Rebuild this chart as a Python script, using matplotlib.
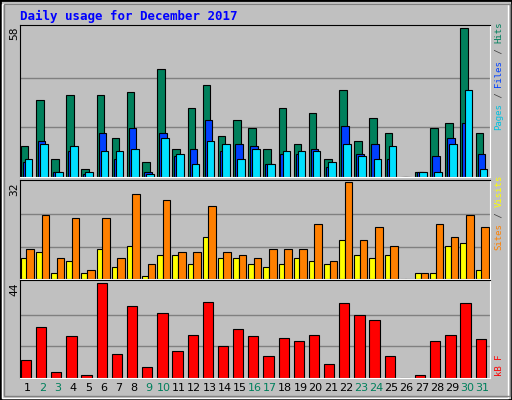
import matplotlib
matplotlib.use("Agg")
import matplotlib.pyplot as plt
from matplotlib.patches import Rectangle

days = list(range(1, 32))
hits  = [12,30,7,32,3,32,15,33,6,42,11,27,36,16,22,19,11,27,13,25,7,34,14,23,17,0,2,19,21,58,17]
files = [6,14,2,10,1,17,7,19,2,17,8,11,22,10,13,12,5,9,9,11,4,20,9,13,7,0,2,8,15,21,9]
pages = [7,13,2,12,2,10,10,11,1,15,9,5,14,13,7,11,5,10,10,10,6,13,8,7,12,0,2,2,13,34,3]
visits = [10,21,7,20,3,20,7,28,5,26,9,9,24,9,8,7,10,10,10,18,6,32,13,17,11,0,2,18,14,21,17]
sites  = [7,9,2,6,2,10,4,11,1,8,8,5,14,7,7,5,4,5,7,6,5,13,8,7,8,0,2,2,11,12,3]
kbytes = [8.3,23.7,2.6,19.4,1.6,44,11.2,33.3,5,29.9,12.6,19.8,35.2,14.6,22.7,19.4,10.2,18.4,17,19.8,6.4,34.7,29,26.6,10.2,0,1.6,17,19.8,34.7,17.9]
weekend = [2,3,9,10,16,17,23,24,30,31]

W, H = 512, 400
fig = plt.figure(figsize=(W/100, H/100), dpi=100)
fig.patch.set_facecolor('#C0C0C0')
fig.add_artist(Rectangle((0, 0), 1, 1, transform=fig.transFigure, fill=False, edgecolor='black', lw=2))
fig.add_artist(Rectangle((2/W, 2/H), (W-6)/W, (H-6)/H, transform=fig.transFigure, fill=False, edgecolor='white', lw=1))
fig.add_artist(Rectangle((4/W, 4/H), (W-6)/W, (H-8)/H, transform=fig.transFigure, fill=False, edgecolor='#808080', lw=1))

fig.text(20/W, 1-16/H, 'Daily usage for December 2017', color='#0000FF', fontsize=9,
         family='DejaVu Sans Mono', fontweight='bold', va='center', ha='left')

def mkax(top, bot):
    ax = fig.add_axes([20/W, 1-bot/H, 470/W, (bot-top)/H])
    ax.set_facecolor('#C0C0C0')
    ax.set_xlim(0.5, 31.5)
    ax.set_xticks([]); ax.set_yticks([])
    for s in ['top', 'left']:
        ax.spines[s].set_color('black')
    for s in ['bottom', 'right']:
        ax.spines[s].set_color('white')
    return ax

def side_label(parts, ybottom, fs=6.5):
    cw = 0.602 * fs * 100 / 72
    y = ybottom
    for txt, col in parts:
        fig.text(499/W, 1-y/H, txt, color=col, rotation=90, fontsize=fs,
                 family='DejaVu Sans Mono', ha='center', va='bottom')
        y -= cw * len(txt)

def max_label(ax, txt, top):
    fig.text(14/W, 1-top/H, txt, rotation=90, ha='center', va='top', fontsize=8,
             family='DejaVu Sans Mono')

ec = dict(edgecolor='black', linewidth=0.8)
x = [d - 0.45 for d in days]

ax1 = mkax(25, 177)
m1 = 58
ax1.set_ylim(0, m1*1.02)
for g in (m1/3, 2*m1/3):
    ax1.axhline(g, color='#808080', lw=1, zorder=0)
ax1.bar(x, hits, width=0.5, align='edge', color='#00805C', **ec)
ax1.bar([v+0.13 for v in x], files, width=0.5, align='edge', color='#0040FF', **ec)
ax1.bar([v+0.27 for v in x], pages, width=0.5, align='edge', color='#00E0FF', **ec)
max_label(ax1, '58', 27)
side_label([('Pages', '#00C0E0'), (' / ', '#404040'), ('Files', '#0040FF'), (' / ', '#404040'), ('Hits', '#00805C')], 130)

ax2 = mkax(180, 279)
m2 = 32
ax2.set_ylim(0, m2*1.02)
for g in (m2/3, 2*m2/3):
    ax2.axhline(g, color='#808080', lw=1, zorder=0)
ax2.bar(x, sites, width=0.4, align='edge', color='#FFFF00', **ec)
ax2.bar([v+0.37 for v in x], visits, width=0.5, align='edge', color='#FF8000', **ec)
max_label(ax2, '32', 182)
side_label([('Sites', '#FF8000'), (' / ', '#404040'), ('Visits', '#FFFF00')], 250)

ax3 = mkax(280, 378)
m3 = 44
ax3.set_ylim(0, m3*1.03)
for g in (m3/3, 2*m3/3):
    ax3.axhline(g, color='#808080', lw=1, zorder=0)
ax3.bar(x, kbytes, width=0.68, align='edge', color='#FF0000', **ec)
max_label(ax3, '44', 282)
side_label([('kB F', '#FF0000')], 376)

for d in days:
    fig.text((20 + (d-0.5)*470/31)/W, 1-388/H, str(d), color='#00805C' if d in weekend else 'black',
             fontsize=8, ha='center', va='center')

fig.savefig('out.png', dpi=100, facecolor=fig.get_facecolor())
